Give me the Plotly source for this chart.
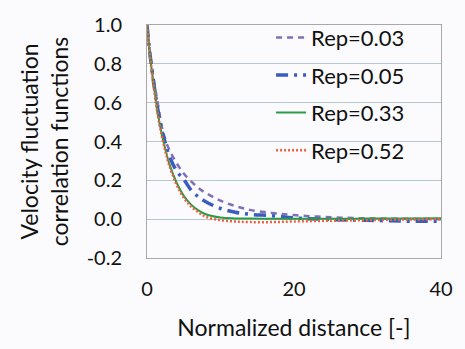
import plotly.graph_objects as go

x = [0, 0.5, 1, 1.5, 2, 2.5, 3, 4, 5, 6, 7, 8, 10, 12, 14, 17, 20, 25, 30, 35, 40]
rep003 = [1.0, 0.83, 0.70, 0.59, 0.48, 0.41, 0.36, 0.29, 0.235, 0.195, 0.16, 0.135, 0.095, 0.068, 0.048, 0.032, 0.021, 0.010, 0.004, 0.002, 0.0]
rep005 = [1.0, 0.82, 0.68, 0.56, 0.46, 0.39, 0.33, 0.25, 0.205, 0.15, 0.115, 0.09, 0.055, 0.036, 0.025, 0.018, 0.007, -0.002, -0.006, -0.010, -0.010]
rep033 = [1.0, 0.81, 0.67, 0.54, 0.44, 0.36, 0.29, 0.19, 0.12, 0.075, 0.045, 0.025, 0.008, 0.004, 0.003, 0.002, 0.002, 0.002, 0.003, 0.004, 0.005]
rep052 = [1.0, 0.81, 0.66, 0.53, 0.43, 0.35, 0.28, 0.18, 0.11, 0.065, 0.035, 0.012, -0.005, -0.012, -0.015, -0.015, -0.012, -0.008, -0.005, -0.002, 0.0]

names = ["Rep=0.03", "Rep=0.05", "Rep=0.33", "Rep=0.52"]
series = [rep003, rep005, rep033, rep052]
y_ticks = [-0.2, 0.0, 0.2, 0.4, 0.6, 0.8, 1.0]
y_ticktext = ["-0.2", "0.0", "0.2", "0.4", "0.6", "0.8", "1.0"]
x_ticks = [0, 20, 40]

colors = ["#8070b8", "#3a5cc0", "#2a9a46", "#f06040"]
dashes = ["6px,5px", "12px,6px,3px,6px", "solid", "2px,2px"]
widths = [2.5, 3.5, 2, 2.5]

FONT = "Lato"
fig = go.Figure()
for i, (n, s) in enumerate(zip(names, series)):
    fig.add_trace(go.Scatter(
        x=x, y=s, name=n, mode="lines", legendgroup=str(i),
        line=dict(color=colors[i], dash=dashes[i], width=widths[i], shape="spline"),
    ))

fig.update_layout(
    width=465, height=349,
    margin=dict(l=147, r=14, t=13, b=91),
    paper_bgcolor="#fbfbfd", plot_bgcolor="#fbfbfd",
    font=dict(family=FONT, size=19, color="#111111"),
    showlegend=True,
    legend=dict(x=0.422, y=1.036, xanchor="left", yanchor="top",
                bgcolor="rgba(0,0,0,0)", font=dict(size=22),
                traceorder="grouped", tracegroupgap=6, itemwidth=30),
    xaxis=dict(range=[0, 40], tickvals=x_ticks, showgrid=False, zeroline=False,
               showline=True, linecolor="#a8a8a8", mirror=True, linewidth=1,
               ticks="outside", ticklen=13, tickcolor="rgba(0,0,0,0)",
               tickfont=dict(size=20),
               title=dict(text="Normalized distance [-]", standoff=20)),
    yaxis=dict(range=[-0.2, 1.0], tickvals=y_ticks, ticktext=y_ticktext,
               showgrid=True, gridcolor="#b4c8ce", gridwidth=1, zeroline=False,
               showline=True, linecolor="#a8a8a8", mirror=True, linewidth=1,
               ticks="outside", ticklen=20, tickcolor="rgba(0,0,0,0)",
               tickfont=dict(size=20),
               title=dict(text="Velocity fluctuation<br>correlation functions", standoff=11)),
)
fig.write_html("out.html")
